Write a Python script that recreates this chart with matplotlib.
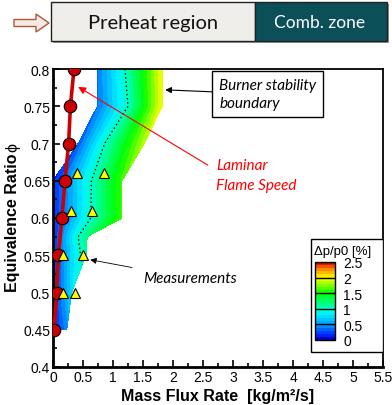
import numpy as np
import matplotlib
matplotlib.use("Agg")
import matplotlib.pyplot as plt
from matplotlib.colors import LinearSegmentedColormap
from matplotlib.patches import Rectangle, Polygon

# ---- data -------------------------------------------------------------
# pressure-drop field on rows of constant equivalence ratio
phi_rows = [0.45, 0.50, 0.55, 0.575, 0.60, 0.65, 0.70, 0.75, 0.80]
flux_left = [0.0, 0.0, 0.0, 0.0, 0.0, 0.0, 0.42, 0.74, 0.74]
flux_mid = [0.12, 0.16, 0.46, 0.42, 0.63, 0.64, 0.86, 1.25, 1.20]
flux_right = [0.23, 0.31, 0.55, 0.57, 1.15, 1.15, 1.52, 1.82, 1.82]
dp_left = [0.15, 0.15, 0.15, 0.15, 0.15, 0.15, 0.30, 0.38, 0.38]
dp_mid = [0.30, 0.45, 1.00, 1.00, 1.00, 1.00, 1.00, 1.00, 1.00]
dp_right = [0.45, 0.75, 1.08, 1.20, 1.60, 1.62, 1.85, 2.00, 2.00]

# laminar flame speed expressed as mass flux
lfs_phi = [0.45, 0.50, 0.55, 0.60, 0.65, 0.70, 0.75, 0.80]
lfs_flux = [0.02, 0.06, 0.09, 0.15, 0.20, 0.26, 0.29, 0.35]

# measurement points
meas_flux = [0.16, 0.37, 0.16, 0.50, 0.30, 0.65, 0.40, 0.85]
meas_phi = [0.50, 0.50, 0.55, 0.55, 0.61, 0.61, 0.66, 0.66]

x_ticks = [0, 0.5, 1, 1.5, 2, 2.5, 3, 3.5, 4, 4.5, 5, 5.5]
y_ticks = [0.4, 0.45, 0.5, 0.55, 0.6, 0.65, 0.7, 0.75, 0.8]
cb_ticks = [0, 0.5, 1, 1.5, 2, 2.5]

# ---- figure -----------------------------------------------------------
W, H = 392, 406
fig = plt.figure(figsize=(W / 100, H / 100), dpi=100)
plt.rcParams['font.family'] = ['Liberation Sans', 'DejaVu Sans']


def px(x, y):
    return (x / W, 1 - y / H)


ax = fig.add_axes([53 / W, 1 - 368 / H, 330 / W, 298 / H])

cmap = LinearSegmentedColormap.from_list(
    "rainbow_dp",
    [(0.00, (0.0, 0.0, 0.55)),
     (0.04, (0.0, 0.05, 1.0)),
     (0.20, (0.0, 0.62, 1.0)),
     (0.33, (0.0, 0.95, 1.0)),
     (0.40, (0.0, 1.0, 0.80)),
     (0.60, (0.0, 1.0, 0.0)),
     (0.80, (1.0, 1.0, 0.0)),
     (0.90, (1.0, 0.55, 0.0)),
     (1.00, (0.85, 0.0, 0.0))])

X = np.column_stack([flux_left, flux_mid, flux_right])
Y = np.column_stack([phi_rows, phi_rows, phi_rows])
Z = np.column_stack([dp_left, dp_mid, dp_right])
levels = np.round(np.arange(0, 2.51, 0.1), 2)
cf = ax.contourf(X, Y, Z, levels=levels, cmap=cmap, zorder=1)
ax.contour(X, Y, Z, levels=[1.0], colors='k', linewidths=1.0,
           linestyles=[(0, (1, 2))], zorder=2)

ax.plot(lfs_flux, lfs_phi, color='#cc0000', lw=2.6, marker='o', ms=9,
        mfc='#cc0000', mec='k', mew=0.8, zorder=4)
ax.plot(meas_flux, meas_phi, ls='none', marker='^', ms=6.5, mfc='#ffff00',
        mec='k', mew=0.8, zorder=5)

ax.set_xlim(0, 5.5)
ax.set_ylim(0.4, 0.8)
ax.set_xticks(x_ticks)
ax.set_xticklabels([f"{v:g}" for v in x_ticks])
ax.set_yticks(y_ticks)
ax.set_yticklabels([f"{v:g}" for v in y_ticks])
ax.set_xticks(np.arange(0.25, 5.5, 0.5), minor=True)
ax.set_yticks(np.arange(0.425, 0.8, 0.05), minor=True)
ax.tick_params(which='both', direction='in', labelsize=10, width=1.2,
               top=False, right=False)
ax.tick_params(which='major', length=5, pad=2)
ax.tick_params(which='minor', length=3)
for side in ['left', 'bottom']:
    ax.spines[side].set_linewidth(2.0)
for side in ['top', 'right']:
    ax.spines[side].set_linewidth(1.3)

ax.set_xlabel("Mass Flux Rate  [kg/m²/s]", fontsize=11.5, fontweight='bold',
              labelpad=3)
# y label: bold words followed by a regular-weight phi
fig.text(*px(13, 223), "Equivalence Ratio", rotation=90, fontsize=11.5,
         fontweight='bold', ha='center', va='center')
fig.text(*px(13, 148), "ϕ", rotation=90, fontsize=11.5, ha='center',
         va='center')

# annotations
ax.annotate("Burner stability\nboundary", xy=(1.87, 0.772), xytext=(2.77, 0.788),
            fontsize=11, style='italic', family=['Lato', 'DejaVu Sans'],
            ha='left', va='top', linespacing=1.4,
            bbox=dict(boxstyle='square,pad=0.45', fc='white', ec='k', lw=1),
            arrowprops=dict(arrowstyle='-|>', color='k', lw=0.8,
                            mutation_scale=9, shrinkA=0, shrinkB=0),
            zorder=6)
ax.annotate("", xy=(0.42, 0.776), xytext=(2.58, 0.671),
            arrowprops=dict(arrowstyle='-|>', color='red', lw=0.8,
                            mutation_scale=11, shrinkA=0, shrinkB=0),
            zorder=6)
ax.text(2.72, 0.680, "Laminar\nFlame Speed", color='red', fontsize=11,
        style='italic', family=['Lato', 'DejaVu Sans'], ha='left', va='top',
        linespacing=1.5, zorder=6)
ax.annotate("Measurements", xy=(0.62, 0.544), xytext=(1.5, 0.519),
            fontsize=11, style='italic', family=['Lato', 'DejaVu Sans'],
            ha='left', va='center',
            arrowprops=dict(arrowstyle='-|>', color='k', lw=0.6,
                            mutation_scale=9, shrinkA=6, shrinkB=0),
            zorder=6)

# colour legend box
ax.add_patch(Rectangle((0.782, 0.05), 0.218, 0.38, transform=ax.transAxes,
                       fc='white', ec='k', lw=1, zorder=6))
fig.text(*px(343, 252), "Δp/p0 [%]", fontsize=9.5, ha='center', va='center')
cax = fig.add_axes([315 / W, 1 - 341 / H, 20 / W, 78 / H])
cax.set_zorder(7)
cb = fig.colorbar(cf, cax=cax, ticks=cb_ticks)
cb.ax.set_yticklabels([f"{v:g}" for v in cb_ticks])
cb.ax.tick_params(length=0, labelsize=10, pad=6)
cb.outline.set_linewidth(1.0)
for v in cb_ticks:
    cb.ax.axhline(v, color='k', lw=1.0)

# header banner
fig.patches.append(Rectangle(px(53, 44), 336 / W, 39 / H, transform=fig.transFigure,
                             fc='#9a9a9a', ec='none', zorder=0))
fig.patches.append(Rectangle(px(51, 42), 204 / W, 39 / H, transform=fig.transFigure,
                             fc='#efeeea', ec='#222222', lw=1.0, zorder=1))
fig.patches.append(Rectangle(px(255, 42), 132 / W, 39 / H, transform=fig.transFigure,
                             fc='#0b4f58', ec='#222222', lw=1.0, zorder=1))
fig.text(*px(153, 23), "Preheat region", fontsize=14.5, ha='center', va='center',
         family=['Lato', 'DejaVu Sans'], color='#111111')
fig.text(*px(320, 23), "Comb. zone", fontsize=12.5, ha='center', va='center',
         family=['Lato', 'DejaVu Sans'], color='white')
arrow_pts = [px(14, 20.5), px(36, 20.5), px(36, 15), px(49, 24), px(36, 33),
             px(36, 27.5), px(14, 27.5)]
fig.patches.append(Polygon(arrow_pts, closed=True, transform=fig.transFigure,
                           fc='#f6ebe4', ec='#b0553c', lw=1.0))

fig.savefig("out.png", dpi=100)
